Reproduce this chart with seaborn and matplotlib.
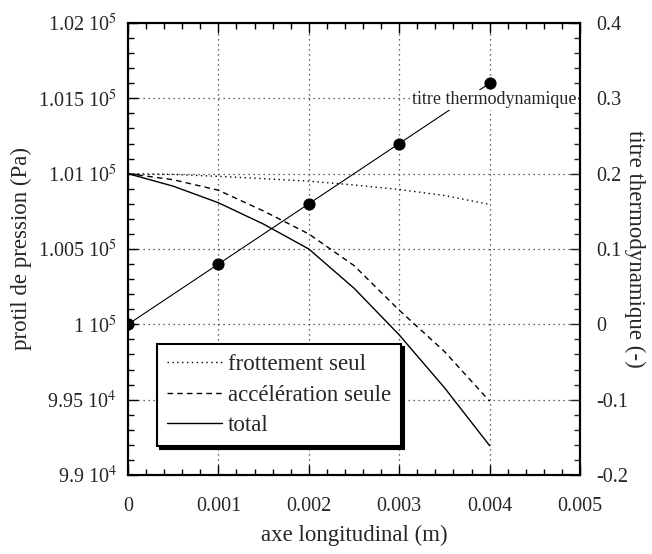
import matplotlib
matplotlib.use("Agg")
import matplotlib.pyplot as plt
import seaborn as sns
import pandas as pd
from matplotlib.ticker import MultipleLocator, FixedLocator, FixedFormatter

# ---- data ----
x_pos = [0.0, 0.0005, 0.001, 0.0015, 0.002, 0.0025, 0.003, 0.0035, 0.004]
frottement = [101000, 100995, 100982, 100967, 100950, 100925, 100895, 100855, 100796]
acceleration = [101000, 100960, 100890, 100752, 100600, 100390, 100094, 99820, 99490]
total = [101000, 100917, 100807, 100665, 100500, 100240, 99930, 99580, 99195]

x_titre = [0.0, 0.001, 0.002, 0.003, 0.004]
titre = [0.0, 0.08, 0.16, 0.24, 0.32]

p_ticks = [99000, 99500, 100000, 100500, 101000, 101500, 102000]
p_labels = ['9.9 10$^4$', '9.95 10$^4$', '1 10$^5$', '1.005 10$^5$',
            '1.01 10$^5$', '1.015 10$^5$', '1.02 10$^5$']
x_ticks = [0, 0.001, 0.002, 0.003, 0.004, 0.005]
x_labels = ['0', '0.001', '0.002', '0.003', '0.004', '0.005']
t_ticks = [-0.2, -0.1, 0.0, 0.1, 0.2, 0.3, 0.4]
t_labels = ['-0.2', '-0.1', '0', '0.1', '0.2', '0.3', '0.4']

sns.set_style("ticks")
plt.rcParams['font.family'] = ['Liberation Serif', 'DejaVu Serif']
plt.rcParams['mathtext.fontset'] = 'stix'

fig = plt.figure(figsize=(6.52, 5.54), dpi=100)
ax = fig.add_axes([128/652, 1-475/554, (580-128)/652, (475-23)/554])

df = pd.DataFrame({'x': x_pos, 'f': frottement, 'a': acceleration, 't': total})
sns.lineplot(data=df, x='x', y='f', ax=ax, color='black', lw=1.0,
             linestyle=(0, (1, 2.5)), label='frottement seul')
sns.lineplot(data=df, x='x', y='a', ax=ax, color='black', lw=1.0,
             linestyle=(0, (4, 3)), label='accélération seule')
sns.lineplot(data=df, x='x', y='t', ax=ax, color='black', lw=1.0,
             linestyle='-', label='total')

ax.set_xlim(0, 0.005)
ax.set_ylim(99000, 102000)
ax.xaxis.set_major_locator(FixedLocator(x_ticks))
ax.xaxis.set_major_formatter(FixedFormatter(x_labels))
ax.xaxis.set_minor_locator(MultipleLocator(0.0002))
ax.yaxis.set_major_locator(FixedLocator(p_ticks))
ax.yaxis.set_major_formatter(FixedFormatter(p_labels))
ax.yaxis.set_minor_locator(MultipleLocator(100))
ax.grid(True, which='major', color='#333333', linestyle=(0, (1, 3)), lw=0.9)
ax.tick_params(axis='both', which='major', direction='in', length=7, width=1,
               top=True, labelsize=14.5, color='black')
ax.tick_params(axis='both', which='minor', direction='in', length=4, width=1,
               top=True, color='black')
ax.tick_params(axis='x', which='major', pad=16)
ax.tick_params(axis='y', which='major', pad=8, right=False)
ax.tick_params(axis='y', which='minor', right=False)
ax.set_xlabel('axe longitudinal (m)', fontsize=16.5, labelpad=6)
ax.set_ylabel('protil de pression (Pa)', fontsize=16.5, labelpad=4)
for s in ax.spines.values():
    s.set_linewidth(1.5)
    s.set_color('black')

ax2 = ax.twinx()
dft = pd.DataFrame({'x': x_titre, 'titre': titre})
sns.lineplot(data=dft, x='x', y='titre', ax=ax2, color='black', lw=0.8,
             marker='o', markersize=8, markeredgecolor='black', legend=False)
ax2.set_ylim(-0.2, 0.4)
ax2.yaxis.set_major_locator(FixedLocator(t_ticks))
ax2.yaxis.set_major_formatter(FixedFormatter(t_labels))
ax2.yaxis.set_minor_locator(MultipleLocator(0.02))
ax2.tick_params(axis='y', which='major', direction='in', length=7, width=1,
                labelsize=14.5, pad=12)
ax2.tick_params(axis='y', which='minor', direction='in', length=4, width=1)
ax2.set_ylabel('titre thermodynamique (-)', fontsize=16.5, rotation=-90,
               labelpad=6, va='center')
ax2.yaxis.set_label_coords(1.12, 0.5)
ax2.set_xlabel('')
for s in ax2.spines.values():
    s.set_linewidth(1.5)
    s.set_color('black')
ax2.text(0.00496, 0.298, 'titre thermodynamique', ha='right', va='center',
         fontsize=13, bbox=dict(facecolor='white', edgecolor='none', pad=1))

leg = ax.legend(loc='upper left', bbox_to_anchor=((157-128)/452, (475-344)/452),
                borderaxespad=0, fontsize=16.5, handlelength=2.4, handletextpad=0.25,
                labelspacing=0.4, frameon=True, fancybox=False,
                shadow={'color': 'black', 'alpha': 1.0}, borderpad=0.45)
leg.get_frame().set_edgecolor('black')
leg.get_frame().set_linewidth(1.5)
leg.get_frame().set_alpha(1.0)
leg.set_zorder(10)

fig.savefig('out.png', dpi=100)
